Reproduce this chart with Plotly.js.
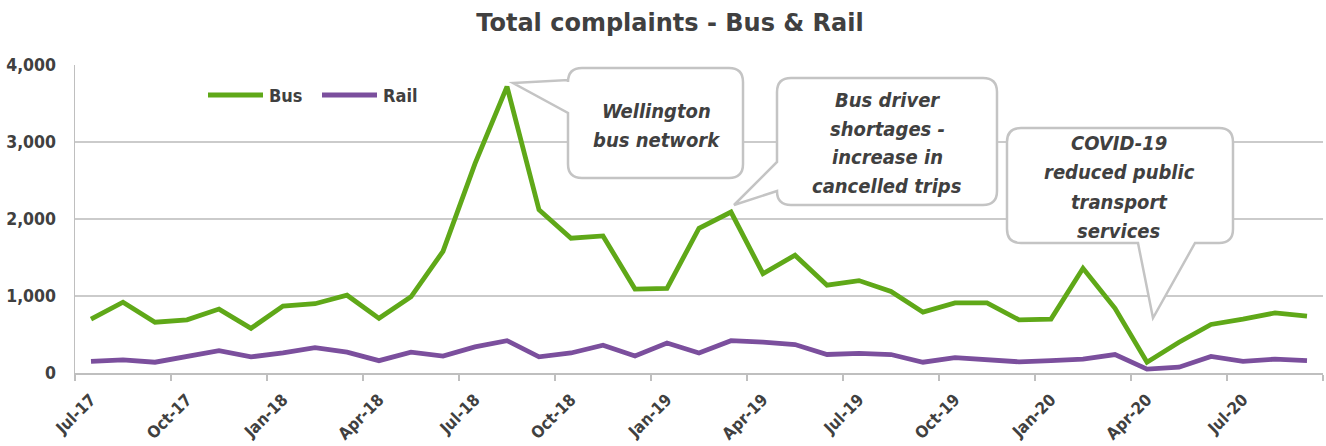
<!DOCTYPE html>
<html><head><meta charset="utf-8">
<script src="https://cdn.plot.ly/plotly-3.0.1.min.js"></script>
<style>html,body{margin:0;padding:0;background:#fff}</style>
</head><body><div id="chart" style="width:1326px;height:446px"></div>
<script>
const months = ['Jul-17','Aug-17','Sep-17','Oct-17','Nov-17','Dec-17','Jan-18','Feb-18','Mar-18','Apr-18','May-18','Jun-18',
  'Jul-18','Aug-18','Sep-18','Oct-18','Nov-18','Dec-18','Jan-19','Feb-19','Mar-19','Apr-19','May-19','Jun-19',
  'Jul-19','Aug-19','Sep-19','Oct-19','Nov-19','Dec-19','Jan-20','Feb-20','Mar-20','Apr-20','May-20','Jun-20',
  'Jul-20','Aug-20','Sep-20'];
const bus = [700,920,660,690,830,580,870,900,1010,710,990,1580,
  2720,3720,2120,1750,1780,1090,1100,1880,2090,1290,1530,1140,
  1200,1060,790,910,910,690,700,1360,840,140,400,630,
  700,780,740];
const rail = [150,170,140,220,290,210,260,330,270,160,270,220,
  340,420,210,260,360,220,390,260,420,400,370,240,
  255,240,140,200,165,145,160,180,240,50,75,215,
  150,180,160];
const seriesNames = ['Bus','Rail'];
const seriesColors = ['#5FA818','#7B4F9D'];
const chartTitle = 'Total complaints - Bus & Rail';
const callouts = [
  {lines:['Wellington','bus network']},
  {lines:['Bus driver','shortages -','increase in','cancelled trips']},
  {lines:['COVID-19','reduced public','transport','services']}
];

const W = 1326, H = 446;
const M = {l:75, r:3, t:65, b:73};
const PW = W - M.l - M.r, PH = H - M.t - M.b;
const FONT = "'DejaVu Sans Condensed', 'DejaVu Sans', sans-serif";
const TXT = '#404040';
const px = x => (x - M.l) / PW;
const py = y => (H - M.b - y) / PH;

function bubblePath(b){
  const {x0,y0,x1,y1,r,side,ba,bb,tip} = b;
  const P = (x,y) => px(x).toFixed(5)+','+py(y).toFixed(5);
  let d = 'M'+P(x0+r,y0)+' L'+P(x1-r,y0)+' Q'+P(x1,y0)+' '+P(x1,y0+r)+
          ' L'+P(x1,y1-r)+' Q'+P(x1,y1)+' '+P(x1-r,y1);
  if(side==='bottom'){ d += ' L'+P(bb,y1)+' L'+P(tip[0],tip[1])+' L'+P(ba,y1); }
  d += ' L'+P(x0+r,y1)+' Q'+P(x0,y1)+' '+P(x0,y1-r);
  if(side==='left'){ d += ' L'+P(x0,bb)+' L'+P(tip[0],tip[1])+' L'+P(x0,ba); }
  d += ' L'+P(x0,y0+r)+' Q'+P(x0,y0)+' '+P(x0+r,y0)+' Z';
  return d;
}
const geo = [
  {x0:568,y0:68,x1:743,y1:178,r:14,side:'left',ba:80,bb:113,tip:[513,83],cx:656,base:118,gap:29},
  {x0:777,y0:78,x1:997,y1:205,r:14,side:'left',ba:162,bb:191,tip:[734,205],cx:887,base:107,gap:28.7},
  {x0:1007,y0:128,x1:1233,y1:243,r:14,side:'bottom',ba:1138,bb:1195,tip:[1153,318],cx:1119,base:150,gap:29.3}
];

const shapes = [], annotations = [];
geo.forEach((g,i)=>{
  shapes.push({type:'path', xref:'paper', yref:'paper', path:bubblePath(g), layer:'above',
    fillcolor:'#ffffff', line:{color:'#c4c4c4', width:2.5}});
  callouts[i].lines.forEach((t,k)=>{
    annotations.push({xref:'paper', yref:'paper', x:px(g.cx), y:py(g.base + k*g.gap - 7),
      xanchor:'center', yanchor:'middle', showarrow:false, text:t,
      font:{family:FONT, size:20, color:TXT, style:'italic', weight:'bold'}});
  });
});
// custom legend
const legendItems = [{x0:208,x1:263,tx:267},{x0:322,x1:377,tx:381}];
legendItems.forEach((L,i)=>{
  shapes.push({type:'line', xref:'paper', yref:'paper', x0:px(L.x0), x1:px(L.x1), y0:py(95), y1:py(95),
    line:{color:seriesColors[i], width:4.8}, layer:'above'});
  annotations.push({xref:'paper', yref:'paper', x:px(L.tx), y:py(95), xanchor:'left', yanchor:'middle',
    showarrow:false, text:seriesNames[i], font:{family:FONT, size:18, color:TXT, weight:'bold'}});
});

const traces = [bus, rail].map((v,i)=>({
  type:'scatter', mode:'lines', x:months, y:v, name:seriesNames[i],
  line:{color:seriesColors[i], width:4.8, shape:'linear'}, showlegend:false, hoverinfo:'x+y'
}));

const layout = {
  width:W, height:H, margin:M, paper_bgcolor:'#fff', plot_bgcolor:'#fff', showlegend:false,
  title:{text:chartTitle, x:670/W, xanchor:'center', xref:'container', y:1-23/H, yanchor:'middle', yref:'container',
    font:{family:"'DejaVu Sans', sans-serif", size:24, color:TXT, weight:'bold'}},
  xaxis:{type:'category', range:[-0.5, months.length-0.5], tickson:'boundaries', dtick:3, tick0:0,
    tickangle:-45, ticks:'outside', ticklen:6, tickwidth:1.5, tickcolor:'#bfbfbf',
    showline:true, linecolor:'#bfbfbf', linewidth:1.5, showgrid:false, zeroline:false,
    tickfont:{family:FONT, size:16.5, color:TXT, weight:'bold'}, ticklabelstandoff:9},
  yaxis:{range:[0,4000], dtick:1000, tickformat:',d', showgrid:true, gridcolor:'#cbcbcb', gridwidth:1.6,
    showline:true, linecolor:'#bfbfbf', linewidth:1.5, zeroline:false, ticks:'',
    tickfont:{family:FONT, size:17.5, color:TXT, weight:'bold'}, ticklabelstandoff:14},
  shapes:shapes, annotations:annotations
};
Plotly.newPlot('chart', traces, layout, {displayModeBar:false, staticPlot:true});
</script></body></html>
